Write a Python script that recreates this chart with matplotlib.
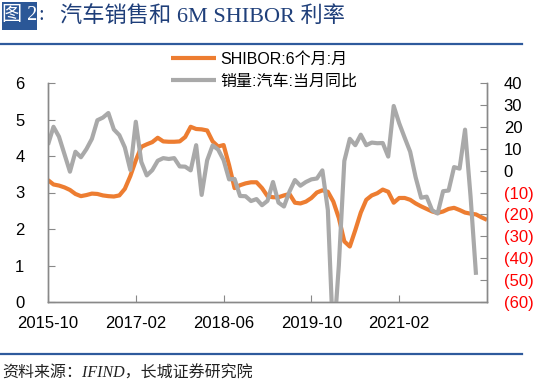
import numpy as np
import pandas as pd
import matplotlib
matplotlib.use('Agg')
import matplotlib.pyplot as plt
from matplotlib.patches import Rectangle
from matplotlib.lines import Line2D
from matplotlib.ticker import FixedLocator, FuncFormatter

plt.rcParams['font.family'] = ['Liberation Sans', 'Noto Sans CJK SC']

# monthly categories 2015-10 .. 2022-06
months = pd.date_range('2015-10-01', '2022-06-01', freq='MS').strftime('%Y-%m').tolist()
tick_labels = ['2015-10', '2017-02', '2018-06', '2019-10', '2021-02']

# SHIBOR 6M (%), left axis
shibor = [3.34, 3.22, 3.19, 3.14, 3.07, 2.96, 2.90, 2.93, 2.97, 2.96,
          2.92, 2.90, 2.89, 2.92, 3.10, 3.45, 3.88, 4.25, 4.32, 4.38,
          4.50, 4.40, 4.39, 4.39, 4.40, 4.52, 4.80, 4.74, 4.73, 4.70,
          4.40, 4.26, 4.30, 3.75, 3.12, 3.20, 3.25, 3.28, 3.28, 3.12,
          2.90, 2.87, 2.87, 2.92, 2.96, 2.72, 2.70, 2.75, 2.85, 3.00,
          3.06, 3.02, 2.75, 2.30, 1.66, 1.52, 1.97, 2.45, 2.80, 2.92,
          2.98, 3.08, 3.02, 2.72, 2.85, 2.85, 2.80, 2.70, 2.62, 2.55,
          2.48, 2.44, 2.48, 2.55, 2.58, 2.52, 2.45, 2.42, 2.40, 2.32,
          2.25]

# auto sales yoy (%), right axis, ends 2022-04
sales = [11.8, 20.0, 15.5, 7.5, -0.5, 8.6, 6.1, 9.8, 14.5, 23.0,
         24.2, 26.3, 18.8, 16.2, 10.6, 0.3, 22.3, 4.0, -2.2, 0.2,
         4.5, 5.7, 5.3, 5.7, 1.9, 1.8, 0.1, 11.6, -11.1, 4.7,
         11.5, 9.6, 4.8, -4.0, -3.8, -11.6, -11.7, -13.9, -13.0, -15.8,
         -13.8, -5.2, -14.6, -16.4, -9.6, -4.3, -6.9, -5.2, -4.0, -3.6,
         0.1, -18.0, -79.1, -43.3, 4.4, 14.5, 11.6, 16.4, 11.6, 12.8,
         12.5, 12.6, 6.4, 29.5, 21.6, 15.0, 8.6, -3.1, -12.4, -11.9,
         -18.1, -19.6, -9.4, -9.1, 1.6, 0.9, 18.7, -11.7, -47.6]

W, H = 550, 385
fig = plt.figure(figsize=(5.5, 3.85), dpi=100)

# header
head_font = ['Liberation Serif', 'Noto Sans CJK SC']
fig.add_artist(Rectangle((2 / W, 1 - 29.5 / H), 35 / W, 27.5 / H,
                         transform=fig.transFigure, color='#2B5797', lw=0))
fig.text(19.5 / W, 1 - 16 / H, '图 2', color='white', fontsize=14.5,
         ha='center', va='center', family=head_font)
fig.text(38 / W, 1 - 16 / H, ':', color='#1F3F7A', fontsize=14.5,
         ha='left', va='center', family=head_font)
fig.text(60 / W, 1 - 16 / H, '汽车销售和 6M SHIBOR 利率', color='#1F3F7A', fontsize=16,
         ha='left', va='center', family=head_font)
fig.add_artist(Line2D([0, 522 / W], [1 - 44 / H] * 2, transform=fig.transFigure,
                      color='#2E5A9C', lw=1.6))
fig.add_artist(Line2D([0, 522 / W], [1 - 354 / H] * 2, transform=fig.transFigure,
                      color='#2E5A9C', lw=1.6))
fig.text(2 / W, 1 - 374 / H, '资料来源：IFIND，长城证券研究院', color='#222222', fontsize=11.5,
         style='italic', ha='left', va='center', family=head_font)

# axes
ax = fig.add_axes([48 / W, 1 - 302 / H, (487 - 48) / W, (302 - 83) / H])
ax2 = ax.twinx()

x1 = np.arange(len(shibor))
x2 = np.arange(len(sales))
l1, = ax.plot(x1, shibor, color='#ED7D31', lw=3.0, solid_capstyle='butt')
l2, = ax2.plot(x2, sales, color='#A9A9A9', lw=3.0, solid_capstyle='butt')

ax.set_xlim(0, len(months) - 1)
ax.set_ylim(0, 6)
ax2.set_ylim(-60, 40)

tick_pos = [months.index(t) for t in tick_labels]
ax.set_xticks(tick_pos)
ax.set_xticklabels(tick_labels)
ax.set_yticks(range(0, 7))
ax2.yaxis.set_major_locator(FixedLocator(range(-60, 41, 10)))
ax2.yaxis.set_major_formatter(FuncFormatter(lambda v, p: f'({abs(int(v))})' if v < 0 else f'{int(v)}'))

spine_c = '#898989'
for a in (ax, ax2):
    for s in a.spines.values():
        s.set_color(spine_c)
        s.set_linewidth(1.0)
    a.spines['top'].set_visible(False)
ax.tick_params(axis='both', direction='in', length=5, color=spine_c, labelsize=12)
ax.tick_params(axis='y', pad=17)
ax.tick_params(axis='x', pad=10)
ax2.tick_params(axis='y', direction='in', length=5, color=spine_c, labelsize=12, pad=12)
for t in ax2.get_yticklabels():
    t.set_color('red' if t.get_text().startswith('(') else 'black')

fig.legend([l1, l2], ['SHIBOR:6个月:月', '销量:汽车:当月同比'], loc='upper left',
           bbox_to_anchor=(171 / W, 1 - 52 / H), frameon=False, borderpad=0,
           borderaxespad=0, handlelength=2.8, handletextpad=0.3, labelspacing=0.42,
           fontsize=11.5)

fig.savefig('out.png', dpi=100)
